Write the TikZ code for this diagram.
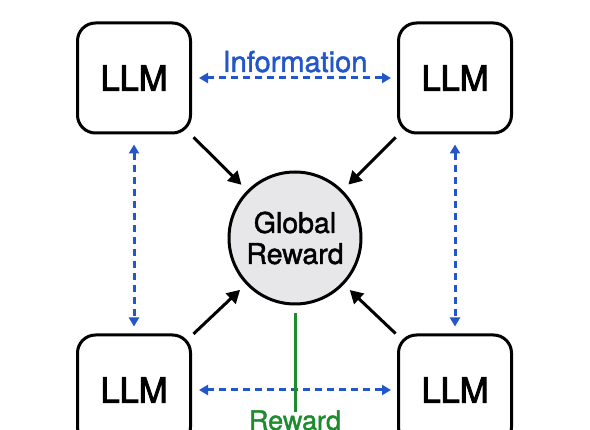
\documentclass[tikz,border=0pt]{standalone}
\usepackage{fontspec}
\setmainfont{TeX Gyre Heros}
\newfontfamily\medfont{TeX Gyre Heros}[FakeBold=1.5]
\newfontfamily\llmfont{TeX Gyre Heros}[FakeBold=2.6]
\usetikzlibrary{arrows.meta}
\definecolor{infoblue}{HTML}{2256C9}
\definecolor{rewgreen}{HTML}{1E8C2E}
\definecolor{circfill}{HTML}{E7E7EA}
\begin{document}
\begin{tikzpicture}[x=1pt,y=-1pt,
  llmbox/.style={draw=black,line width=3pt,rounded corners=18pt,minimum width=113pt,minimum height=110pt,inner sep=0pt,font=\llmfont\fontsize{34.5}{40}\selectfont},
  blackarrow/.style={line width=3pt,-{Triangle[length=13pt,width=14pt]}},
  infoarrow/.style={draw=infoblue,line width=3pt,dash pattern=on 7pt off 5pt,{Triangle[length=9pt,width=10pt]}-{Triangle[length=9pt,width=10pt]}}]
\useasboundingbox (0,0) rectangle (590,430);
\node[llmbox] (tl) at (134,78) {LLM};
\node[llmbox] (tr) at (455,78) {LLM};
\node[llmbox] (bl) at (134,390) {LLM};
\node[llmbox] (br) at (455,390) {LLM};
\node[draw=black,line width=3pt,circle,fill=circfill,minimum size=132pt,inner sep=0pt,align=center,font=\medfont\fontsize{28.5}{31}\selectfont] (gr) at (295,238) {Global\\Reward};
\draw[blackarrow,shorten <=4pt,shorten >=8pt] (tl) -- (gr);
\draw[blackarrow,shorten <=4pt,shorten >=8pt] (tr) -- (gr);
\draw[blackarrow,shorten <=2pt,shorten >=8pt] (bl) -- (gr);
\draw[blackarrow,shorten <=2pt,shorten >=8pt] (br) -- (gr);
\draw[infoarrow,shorten <=7pt,shorten >=6pt] (tl) -- (tr);
\draw[infoarrow,shorten <=7pt,shorten >=6pt] (bl) -- (br);
\draw[infoarrow,shorten <=10pt,shorten >=7pt] (tl) -- (bl);
\draw[infoarrow,shorten <=10pt,shorten >=7pt] (tr) -- (br);
\node[text=infoblue,font=\medfont\fontsize{29}{32}\selectfont,anchor=base] (info) at (295,72) {Information};
\coordinate (gend) at (295,412);
\draw[rewgreen,line width=3pt,shorten <=8pt] (gr.south) -- (gend);
\node[text=rewgreen,font=\medfont\fontsize{27}{30}\selectfont,anchor=base] (rew) at (295,430) {Reward};
\end{tikzpicture}
\end{document}
